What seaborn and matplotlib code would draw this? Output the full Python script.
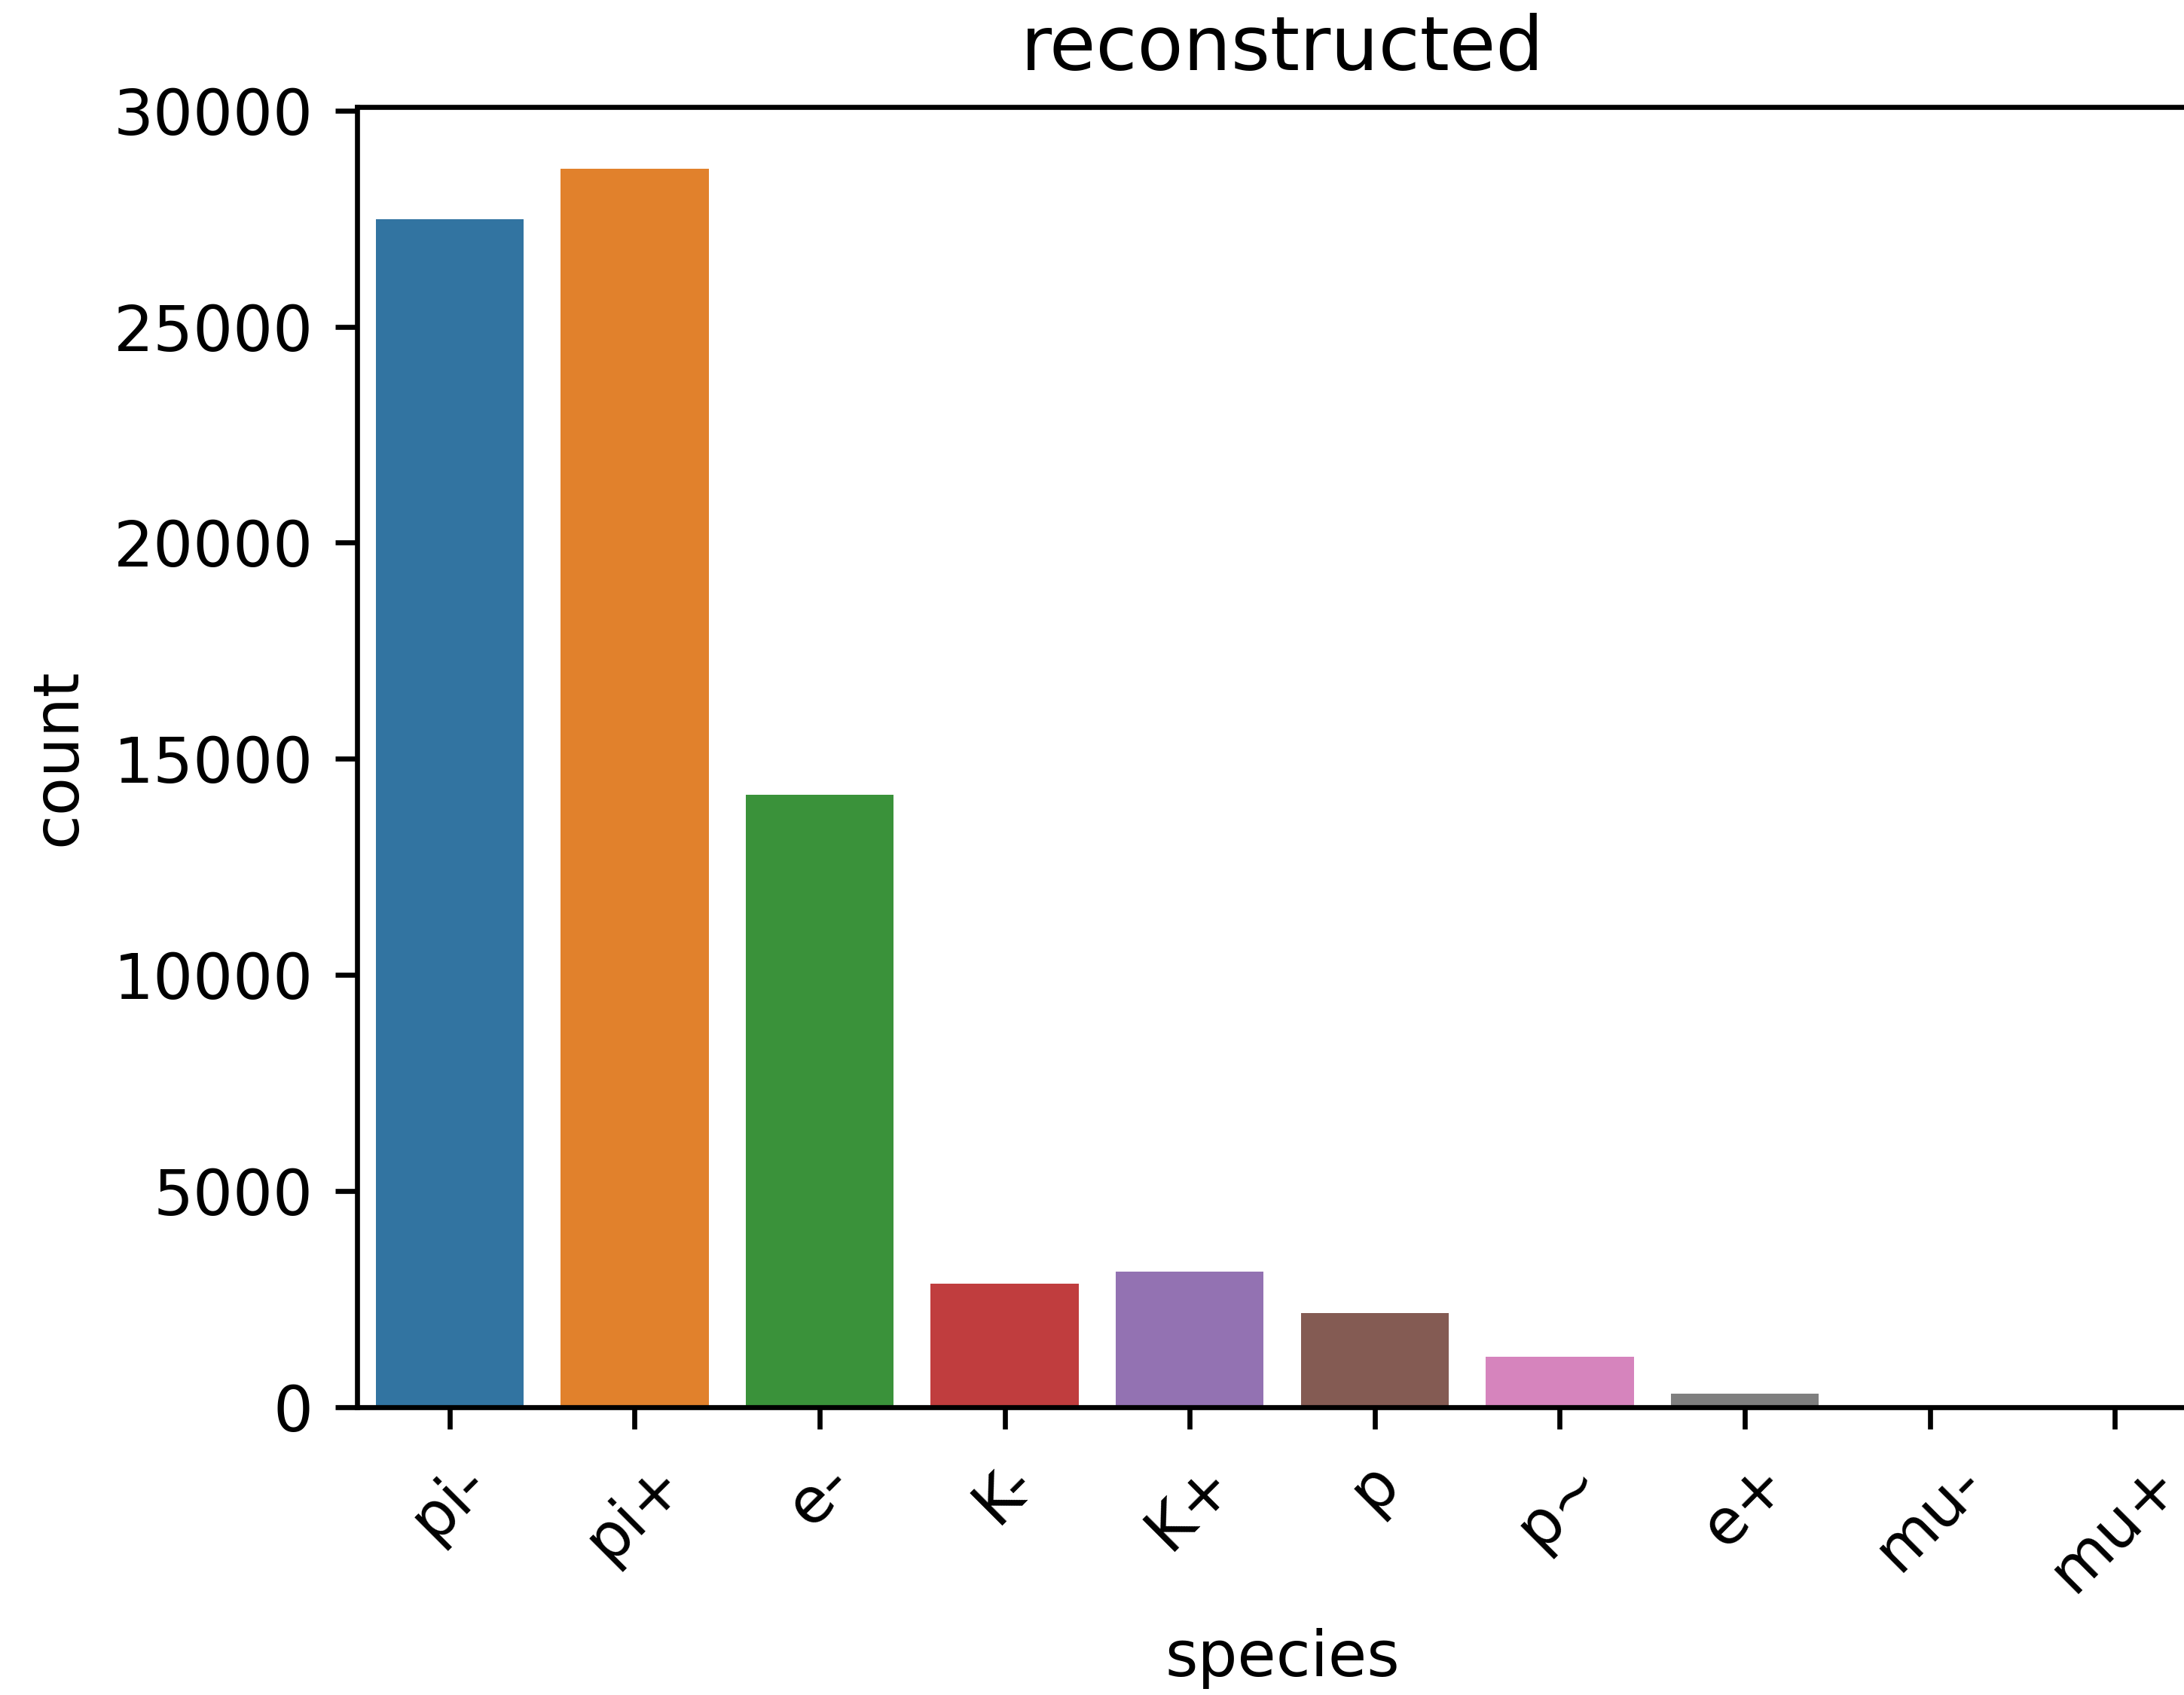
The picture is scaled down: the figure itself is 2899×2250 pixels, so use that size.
import matplotlib
matplotlib.use("Agg")
import matplotlib.pyplot as plt
import seaborn as sns
import pandas as pd

# Reconstructed particle counts per species
species = ["pi-", "pi+", "e-", "K-", "K+", "p", "p~", "e+", "mu-", "mu+"]
counts = [27490, 28650, 14170, 2860, 3140, 2180, 1170, 315, 15, 10]

df = pd.DataFrame({"species": species, "count": counts})

fig = plt.figure(figsize=(2899 / 600, 2250 / 600), dpi=600)
ax = fig.add_axes([0.1635, 0.1698, 0.8472, 0.7671])

sns.barplot(data=df, x="species", y="count", hue="species", legend=False, ax=ax)

ax.set_title("reconstructed")
ax.set_xlabel("species")
ax.set_ylabel("count")
ax.tick_params(axis="x", labelrotation=45)

fig.savefig("out.png", dpi=600)
